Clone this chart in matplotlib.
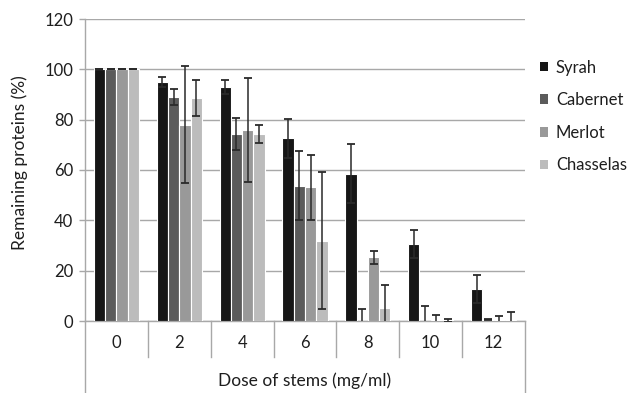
import matplotlib
matplotlib.use('Agg')
import matplotlib.pyplot as plt
from matplotlib.patches import Patch
import numpy as np

# remaining proteins vs dose of stems, 4 grape varieties

doses = ['0', '2', '4', '6', '8', '10', '12']
varieties = ['Syrah', 'Cabernet', 'Merlot', 'Chasselas']
colors = ['#161616', '#5b5b5b', '#999999', '#bcbcbc']

syrah = [100, 95, 93, 72.6, 58.5, 30.6, 12.6]
syrah_err = [0, 2, 2.8, 7.8, 11.7, 5.6, 5.5]
cabernet = [100, 89, 74.3, 53.8, 0, 0, 0.5]
cabernet_err = [0, 3, 6.5, 13.8, 4.9, 6.0, 0.3]
merlot = [100, 78, 75.9, 53.1, 25.4, 0.3, 0.3]
merlot_err = [0, 23.2, 20.7, 13, 2.6, 2.0, 1.6]
chasselas = [100, 88.6, 74.3, 31.9, 5.1, 0.3, 0.3]
chasselas_err = [0, 7, 3.5, 27.3, 9.3, 0.6, 3.4]

values = [syrah, cabernet, merlot, chasselas]
errors = [syrah_err, cabernet_err, merlot_err, chasselas_err]

plt.rcParams['font.family'] = ['Lato', 'DejaVu Sans']
grey = '#a8a8a8'
txt = '#1e1e1e'

fig = plt.figure(figsize=(6.3, 3.93), dpi=100)
W, H = 630.0, 393.0
ax = fig.add_axes([85 / W, (H - 321) / H, 440 / W, 302 / H])

x = np.arange(len(doses))
w = 0.18
for i in range(4):
    pos = x + (i - 1.5) * w
    ax.bar(pos, values[i], w, color=colors[i], edgecolor='white', linewidth=0.8,
           zorder=3)
    ax.errorbar(pos, values[i], yerr=errors[i], fmt='none', ecolor='#2a2a2a',
                elinewidth=1.1, capsize=3, capthick=1.3, zorder=4)

ax.set_ylim(0, 120)
ax.set_xlim(-0.5, len(doses) - 0.5)
ax.set_yticks(range(0, 121, 20))
ax.yaxis.grid(True, color=grey, linewidth=1, zorder=0)
ax.set_axisbelow(True)

for s in ['top', 'right']:
    ax.spines[s].set_visible(False)
for s in ['left', 'bottom']:
    ax.spines[s].set_color(grey)
    ax.spines[s].set_linewidth(1)

ax.tick_params(axis='y', length=4.5, width=1, color=grey, pad=4, labelsize=12, labelcolor=txt)
ax.set_xticks(x)
ax.set_xticklabels(doses)
ax.tick_params(axis='x', length=0, pad=10, labelsize=12, labelcolor=txt)

# category separators below the axis
trans = ax.get_xaxis_transform()
for k in range(len(doses) + 1):
    bottom = -0.238 if k in (0, len(doses)) else -0.119
    ax.plot([k - 0.5, k - 0.5], [0, bottom], color=grey, linewidth=1,
            transform=trans, clip_on=False)

ax.set_xlabel('Dose of stems (mg/ml)', fontsize=12.5, color=txt)
ax.xaxis.set_label_coords(0.5, -0.199)
ax.xaxis.label.set_va('center')
ax.set_ylabel('Remaining proteins (%)', fontsize=12.5, color=txt)
ax.yaxis.set_label_coords(-0.148, 0.523)
ax.yaxis.label.set_va('center')

handles = [Patch(facecolor=c, edgecolor='none') for c in colors]
leg = fig.legend(handles, varieties, loc='center left',
                 bbox_to_anchor=(540 / W, (H - 116.5) / H),
                 frameon=False, fontsize=12, handlelength=0.5, handleheight=0.5,
                 handletextpad=0.45, labelspacing=1.0, borderpad=0, borderaxespad=0)
for t in leg.get_texts():
    t.set_color(txt)

plt.savefig('out.png', dpi=100)
